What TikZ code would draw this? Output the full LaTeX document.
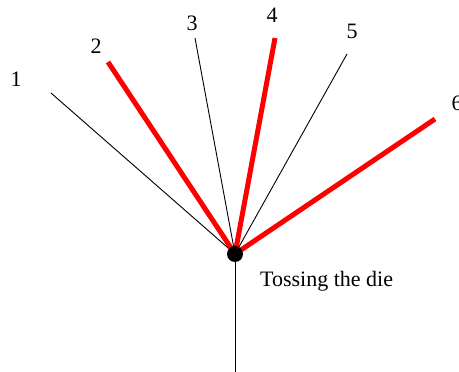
\documentclass[tikz,border=0pt]{standalone}
\usepackage{fontspec}
\setmainfont{Liberation Serif}
\begin{document}
\begin{tikzpicture}[x=1pt,y=-1pt,
  thin branch/.style={line width=0.9pt, black},
  red branch/.style={line width=5pt, red},
  lbl/.style={font=\fontsize{22}{26}\selectfont, inner sep=0pt}]
\useasboundingbox (0,0) rectangle (459,372);
\coordinate (c) at (235,254);
\coordinate (bottom) at (235,372);
\coordinate (e1) at (51,93);
\coordinate (e2) at (108,62);
\coordinate (e3) at (195,38);
\coordinate (e4) at (275,38);
\coordinate (e5) at (347,54);
\coordinate (e6) at (435,119);
\node[lbl] (l1) at (16,79) {1};
\node[lbl] (l2) at (96,46) {2};
\node[lbl] (l3) at (192,23) {3};
\node[lbl] (l4) at (272,15) {4};
\node[lbl] (l5) at (352,31) {5};
\node[lbl] (l6) at (457,103) {6};
\draw[thin branch] (c) -- (bottom);
\draw[thin branch] (c) -- (e1);
\draw[thin branch] (c) -- (e3);
\draw[thin branch] (c) -- (e5);
\draw[red branch] (c) -- (e2);
\draw[red branch] (c) -- (e4);
\draw[red branch] (c) -- (e6);
\fill[black] (c) circle (8);
\node[lbl, anchor=base west] (toss) at (260,286) {Tossing the die};
\end{tikzpicture}
\end{document}
